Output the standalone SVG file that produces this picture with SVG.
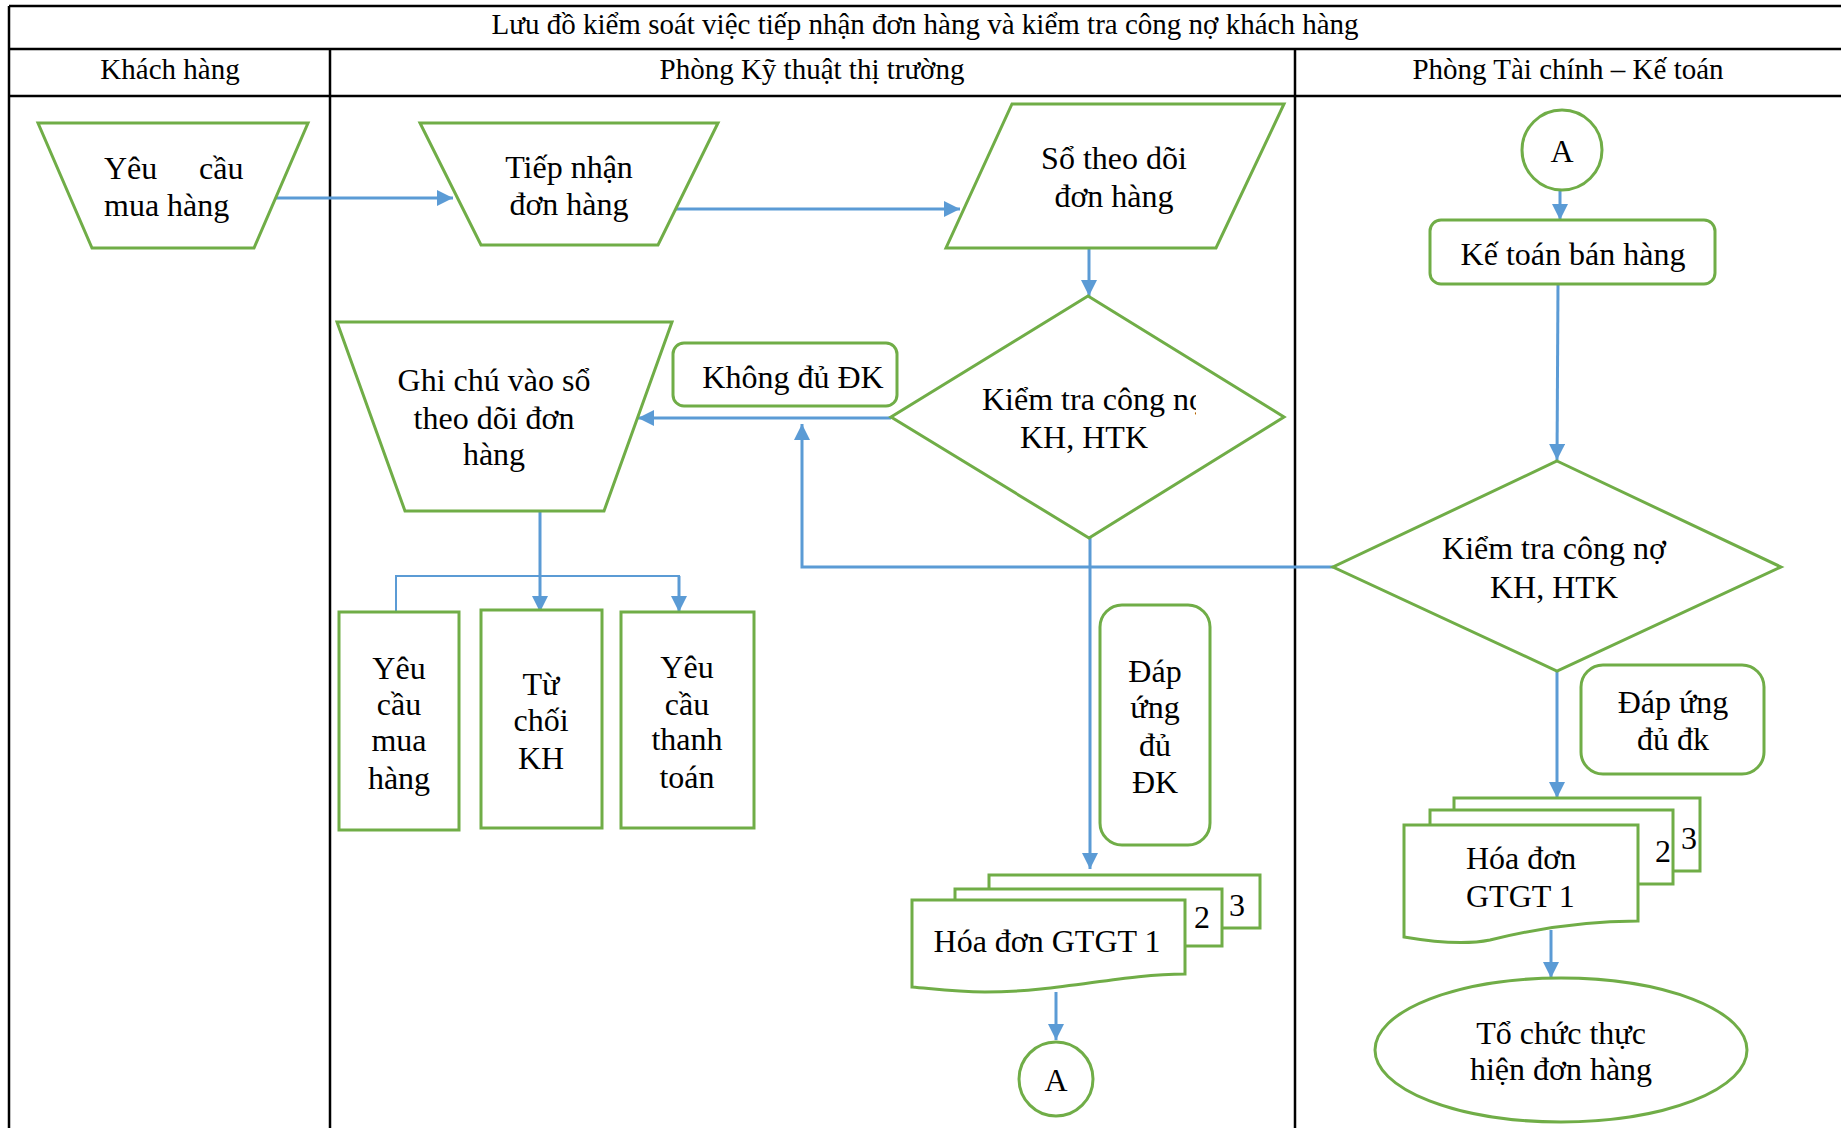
<svg xmlns="http://www.w3.org/2000/svg" width="1841" height="1128" viewBox="0 0 1841 1128">
  <style>
    text { font-family: "Liberation Serif", "Times New Roman", serif; fill: #000; }
    .hdr { font-size: 29px; text-anchor: middle; }
    .t { font-size: 32px; text-anchor: middle; }
    .tl { font-size: 32px; }
    .grid { stroke: #000; stroke-width: 2.5; fill: none; }
    .shape { fill: #fff; stroke: #70AD47; stroke-width: 3; stroke-linejoin: miter; }
    .conn { fill: none; stroke: #5B9BD5; stroke-width: 3; }
    .conn-thin { fill: none; stroke: #5B9BD5; stroke-width: 2; }
  </style>
  <defs>
    <marker id="arrow" viewBox="0 0 10 10" refX="10" refY="5" markerWidth="16" markerHeight="16" markerUnits="userSpaceOnUse" orient="auto">
      <path d="M0,0 L10,5 L0,10 Z" fill="#5B9BD5"/>
    </marker>
    <clipPath id="clip-dec1">
      <rect x="880" y="370" width="316" height="90"/>
    </clipPath>
  </defs>

  <rect width="1841" height="1128" fill="#fff"/>

  <!-- swimlane table -->
  <g id="table">
    <line class="grid" x1="9" y1="6" x2="1841" y2="6"/>
    <line class="grid" x1="9" y1="49" x2="1841" y2="49"/>
    <line class="grid" x1="9" y1="96" x2="1841" y2="96"/>
    <line class="grid" x1="9" y1="6" x2="9" y2="1128"/>
    <line class="grid" x1="330" y1="49" x2="330" y2="1128"/>
    <line class="grid" x1="1295" y1="49" x2="1295" y2="1128"/>
    <text class="hdr" x="925" y="34">Lưu đồ kiểm soát việc tiếp nhận đơn hàng và kiểm tra công nợ khách hàng</text>
    <text class="hdr" x="170" y="79">Khách hàng</text>
    <text class="hdr" x="812" y="79">Phòng Kỹ thuật thị trường</text>
    <text class="hdr" x="1568" y="79">Phòng Tài chính – Kế toán</text>
  </g>

  <!-- connectors -->
  <g id="connectors">
    <line class="conn" x1="275" y1="198" x2="453" y2="198" marker-end="url(#arrow)"/>
    <line class="conn" x1="673" y1="209" x2="960" y2="209" marker-end="url(#arrow)"/>
    <line class="conn" x1="1089" y1="248" x2="1089" y2="296" marker-end="url(#arrow)"/>
    <line class="conn" x1="891" y1="418" x2="638" y2="418" marker-end="url(#arrow)"/>
    <polyline class="conn" points="1333,567 802,567 802,424" marker-end="url(#arrow)"/>
    <line class="conn" x1="540" y1="511" x2="540" y2="612" marker-end="url(#arrow)"/>
    <polyline class="conn-thin" points="396,612 396,576 679,576 679,612"/>
    <line class="conn" x1="679" y1="576" x2="679" y2="612" marker-end="url(#arrow)"/>
    <line class="conn" x1="1090" y1="538" x2="1090" y2="869" marker-end="url(#arrow)"/>
    <line class="conn" x1="1056" y1="992" x2="1056" y2="1040" marker-end="url(#arrow)"/>
    <line class="conn" x1="1560" y1="190" x2="1560" y2="220" marker-end="url(#arrow)"/>
    <line class="conn" x1="1558" y1="284" x2="1557" y2="460" marker-end="url(#arrow)"/>
    <line class="conn" x1="1557" y1="665" x2="1557" y2="798" marker-end="url(#arrow)"/>
    <line class="conn" x1="1551" y1="930" x2="1551" y2="978" marker-end="url(#arrow)"/>
  </g>

  <!-- Khách hàng lane -->
  <g id="yeu-cau-mua-hang">
    <polygon class="shape" points="38,123 308,123 254,248 92,248"/>
    <text class="tl" y="179"><tspan x="104">Yêu</tspan><tspan x="199">cầu</tspan></text>
    <text class="tl" x="104" y="216">mua hàng</text>
  </g>

  <!-- Phòng Kỹ thuật thị trường lane -->
  <g id="tiep-nhan-don-hang">
    <polygon class="shape" points="420,123 718,123 658,245 481,245"/>
    <text class="t" x="569" y="178">Tiếp nhận</text>
    <text class="t" x="569" y="215">đơn hàng</text>
  </g>

  <g id="so-theo-doi">
    <polygon class="shape" points="1012,104 1284,104 1216,248 946,248"/>
    <text class="t" x="1114" y="169">Sổ theo dõi</text>
    <text class="t" x="1114" y="207">đơn hàng</text>
  </g>

  <g id="kiem-tra-1">
    <polygon class="shape" points="1088,296 1284,417 1089,538 891,417"/>
    <text class="tl" x="982" y="410" clip-path="url(#clip-dec1)">Kiểm tra công nợ</text>
    <text class="t" x="1084" y="448">KH, HTK</text>
  </g>

  <g id="khong-du-dk">
    <rect class="shape" x="673" y="343" width="224" height="63" rx="11"/>
    <text class="t" x="793" y="388">Không đủ ĐK</text>
  </g>

  <g id="ghi-chu">
    <polygon class="shape" points="337,322 672,322 604,511 405,511"/>
    <text class="t" x="494" y="391">Ghi chú vào sổ</text>
    <text class="t" x="494" y="429">theo dõi đơn</text>
    <text class="t" x="494" y="465">hàng</text>
  </g>

  <g id="box-yeu-cau-mua-hang">
    <rect class="shape" x="339" y="612" width="120" height="218"/>
    <text class="t" x="399" y="679">Yêu</text>
    <text class="t" x="399" y="715">cầu</text>
    <text class="t" x="399" y="751">mua</text>
    <text class="t" x="399" y="789">hàng</text>
  </g>

  <g id="box-tu-choi">
    <rect class="shape" x="481" y="610" width="121" height="218"/>
    <text class="t" x="541" y="695">Từ</text>
    <text class="t" x="541" y="731">chối</text>
    <text class="t" x="541" y="769">KH</text>
  </g>

  <g id="box-yeu-cau-thanh-toan">
    <rect class="shape" x="621" y="612" width="133" height="216"/>
    <text class="t" x="687" y="678">Yêu</text>
    <text class="t" x="687" y="715">cầu</text>
    <text class="t" x="687" y="750">thanh</text>
    <text class="t" x="687" y="788">toán</text>
  </g>

  <g id="dap-ung-1">
    <rect class="shape" x="1100" y="605" width="110" height="240" rx="22"/>
    <text class="t" x="1155" y="682">Đáp</text>
    <text class="t" x="1155" y="718">ứng</text>
    <text class="t" x="1155" y="756">đủ</text>
    <text class="t" x="1155" y="793">ĐK</text>
  </g>

  <g id="hoa-don-1">
    <rect class="shape" x="989" y="875" width="271" height="53"/>
    <rect class="shape" x="955" y="889" width="267" height="57"/>
    <path class="shape" d="M912,900 H1185 V974 C1120,974 1060,992 985,992 C955,992 935,989 912,987 Z"/>
    <text class="t" x="1237" y="916">3</text>
    <text class="t" x="1202" y="928">2</text>
    <text class="t" x="1047" y="952">Hóa đơn GTGT 1</text>
  </g>

  <g id="connector-a-out">
    <circle class="shape" cx="1056" cy="1079" r="37"/>
    <text class="t" x="1056" y="1091">A</text>
  </g>

  <!-- Phòng Tài chính – Kế toán lane -->
  <g id="connector-a-in">
    <circle class="shape" cx="1562" cy="150" r="40"/>
    <text class="t" x="1562" y="162">A</text>
  </g>

  <g id="ke-toan-ban-hang">
    <rect class="shape" x="1430" y="220" width="285" height="64" rx="11"/>
    <text class="t" x="1573" y="265">Kế toán bán hàng</text>
  </g>

  <g id="kiem-tra-2">
    <polygon class="shape" points="1557,461 1781,567 1557,671 1333,567"/>
    <text class="t" x="1554" y="559">Kiểm tra công nợ</text>
    <text class="t" x="1554" y="598">KH, HTK</text>
  </g>

  <g id="dap-ung-2">
    <rect class="shape" x="1581" y="665" width="183" height="109" rx="22"/>
    <text class="t" x="1673" y="713">Đáp ứng</text>
    <text class="t" x="1673" y="750">đủ đk</text>
  </g>

  <g id="hoa-don-2">
    <rect class="shape" x="1454" y="798" width="246" height="73"/>
    <rect class="shape" x="1430" y="810" width="243" height="74"/>
    <path class="shape" d="M1404,825 H1638 V921 C1580,921 1530,930 1490,940 C1470,944 1445,944 1404,937 Z"/>
    <text class="t" x="1689" y="849">3</text>
    <text class="t" x="1663" y="862">2</text>
    <text class="tl" x="1466" y="869">Hóa đơn</text>
    <text class="tl" x="1466" y="907">GTGT 1</text>
  </g>

  <g id="to-chuc-thuc-hien">
    <ellipse class="shape" cx="1561" cy="1050" rx="186" ry="72"/>
    <text class="t" x="1561" y="1044">Tổ chức thực</text>
    <text class="t" x="1561" y="1080">hiện đơn hàng</text>
  </g>
</svg>
